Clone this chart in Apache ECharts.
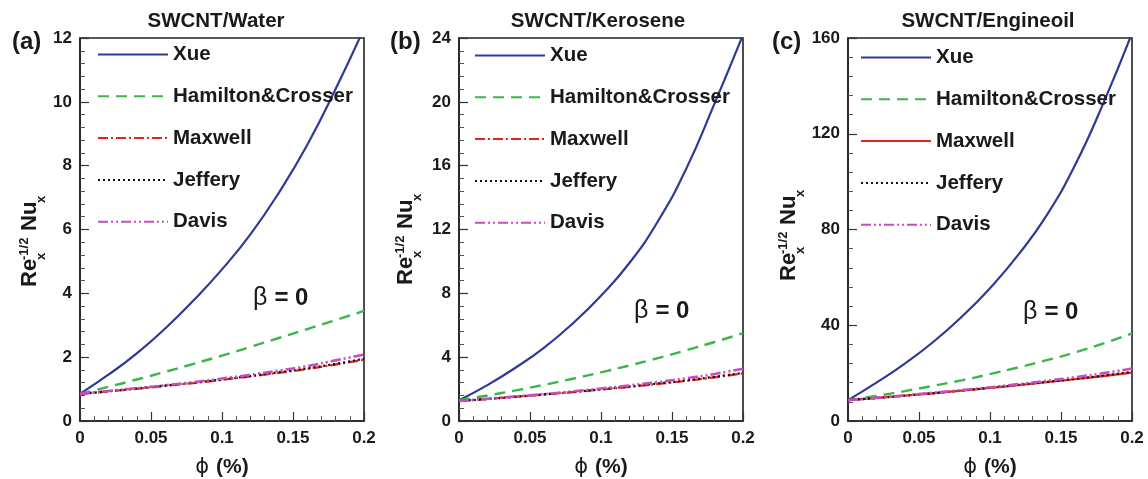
<!DOCTYPE html>
<html>
<head>
<meta charset="utf-8">
<script src="https://cdn.jsdelivr.net/npm/echarts@6/dist/echarts.min.js"></script>
<style>
  html, body { margin: 0; padding: 0; background: #fff; }
  #chart { width: 1148px; height: 479px; }
</style>
</head>
<body>
<div id="chart"></div>
<script>
// volume fraction (x axis)
const phi = [0, 0.02, 0.04, 0.06, 0.08, 0.10, 0.12, 0.14, 0.16, 0.18, 0.20]

// (a) SWCNT/Water
const xueWater = [0.85, 1.45, 2.12, 2.9, 3.78, 4.75, 5.85, 7.15, 8.65, 10.4, 12.3]
const hcWater = [0.85, 1.07, 1.3, 1.54, 1.79, 2.05, 2.32, 2.6, 2.88, 3.16, 3.45]
const maxwellWater = [0.85, 0.93, 1.01, 1.1, 1.19, 1.29, 1.4, 1.51, 1.63, 1.77, 1.92]
const jefferyWater = [0.85, 0.93, 1.02, 1.11, 1.2, 1.3, 1.41, 1.53, 1.65, 1.79, 1.95]
const davisWater = [0.85, 0.94, 1.03, 1.12, 1.22, 1.33, 1.45, 1.58, 1.72, 1.9, 2.08]

// (b) SWCNT/Kerosene
const xueKerosene = [1.3, 2.25, 3.35, 4.6, 6.1, 7.85, 9.9, 12.5, 15.8, 19.9, 24.2]
const hcKerosene = [1.3, 1.6, 1.92, 2.27, 2.65, 3.05, 3.48, 3.94, 4.43, 4.95, 5.5]
const maxwellKerosene = [1.25, 1.38, 1.52, 1.66, 1.81, 1.97, 2.14, 2.32, 2.52, 2.74, 2.98]
const jefferyKerosene = [1.25, 1.38, 1.52, 1.67, 1.82, 1.98, 2.16, 2.35, 2.55, 2.77, 3.02]
const davisKerosene = [1.25, 1.39, 1.54, 1.69, 1.86, 2.04, 2.23, 2.44, 2.68, 2.95, 3.28]

// (c) SWCNT/Engineoil
const xueOil = [8.7, 16, 24, 33, 43.5, 55.5, 69.5, 86, 107, 133, 162]
const hcOil = [8.7, 10.5, 12.5, 14.7, 17, 19.6, 22.4, 25.4, 28.7, 32.4, 36.6]
const maxwellOil = [8.7, 9.6, 10.6, 11.6, 12.7, 13.8, 15, 16.2, 17.5, 18.8, 20.2]
const jefferyOil = [8.7, 9.6, 10.6, 11.6, 12.7, 13.9, 15.1, 16.3, 17.6, 19, 20.5]
const davisOil = [8.7, 9.7, 10.7, 11.8, 12.9, 14.1, 15.4, 16.8, 18.3, 20, 21.9]

const modelNames = ['Xue', 'Hamilton&Crosser', 'Maxwell', 'Jeffery', 'Davis']
const yMax = [12, 24, 160]
const yStep = [2, 4, 40]
const panelTitles = ['SWCNT/Water', 'SWCNT/Kerosene', 'SWCNT/Engineoil']
const panelTags = ['(a)', '(b)', '(c)']
const panelData = [
  [xueWater, hcWater, maxwellWater, jefferyWater, davisWater],
  [xueKerosene, hcKerosene, maxwellKerosene, jefferyKerosene, davisKerosene],
  [xueOil, hcOil, maxwellOil, jefferyOil, davisOil]
]

const FONT = '"Liberation Sans", Arial, Helvetica, sans-serif'
const INK = '#1a1a1a'

// line looks per model, panel (c) draws Maxwell solid
const modelStyles = [
  { color: '#2f3a96', type: 'solid', width: 2.2 },
  { color: '#3cb54a', type: [11, 7], width: 2.4 },
  { color: '#e0261c', type: [10, 3, 2, 3], width: 2.3 },
  { color: '#111111', type: [2, 3], width: 2.2 },
  { color: '#c44fc0', type: [10, 3, 2, 3, 2, 3], width: 2.6 }
]

// layout of the three boxes
const layout = [
  { left: 80, legendLeft: 97, legendTop: 44, titleX: 216, tagX: 12, betaX: 253, betaY: 298, nameX: 30, nameY: 287 },
  { left: 459, legendLeft: 474, legendTop: 45, titleX: 598, tagX: 390, betaX: 634, betaY: 311, nameX: 406, nameY: 285 },
  { left: 848, legendLeft: 860, legendTop: 47, titleX: 988, tagX: 772, betaX: 1023, betaY: 312, nameX: 789, nameY: 281 }
]
const gridTop = 38
const gridW = 284
const gridH = 383

function yName (x, y) {
  let big = { fontSize: 22, fontWeight: 'bold', fontFamily: FONT, fill: INK, verticalAlign: 'middle' }
  let small = { fontSize: 13, fontWeight: 'bold', fontFamily: FONT, fill: INK, verticalAlign: 'middle' }
  return {
    type: 'group',
    x: x,
    y: y,
    rotation: Math.PI / 2,
    children: [
      { type: 'text', x: 0, y: 0, style: Object.assign({ text: 'Re' }, big) },
      { type: 'text', x: 27, y: -6, style: Object.assign({ text: '-1/2' }, small) },
      { type: 'text', x: 27, y: 11, style: Object.assign({ text: 'x' }, small) },
      { type: 'text', x: 56, y: 0, style: Object.assign({ text: 'Nu' }, big) },
      { type: 'text', x: 84, y: 11, style: Object.assign({ text: 'x' }, small) }
    ]
  }
}

let grid = [], xAxis = [], yAxis = [], series = [], legend = [], title = [], graphic = []

for (let p = 0; p < 3; p++) {
  let L = layout[p]
  grid.push({
    left: L.left, top: gridTop, width: gridW, height: gridH,
    outerBoundsMode: 'none',
    show: true, borderColor: '#222', borderWidth: 1.6, backgroundColor: 'transparent'
  })
  xAxis.push({
    type: 'value', gridIndex: p, min: 0, max: 0.2, interval: 0.05,
    name: '{g|ϕ}{b|(%)}', nameLocation: 'middle', nameGap: 36,
    nameTextStyle: {
      rich: {
        g: { fontSize: 21, fontWeight: 'normal', fontFamily: '"DejaVu Sans", ' + FONT, color: INK, padding: [0, 7, 0, 0] },
        b: { fontSize: 21, fontWeight: 'bold', fontFamily: FONT, color: INK }
      }
    },
    axisLine: { show: true, lineStyle: { color: '#222', width: 1.6 } },
    axisTick: { show: true, inside: true, length: 9, lineStyle: { color: '#333', width: 1.2 } },
    minorTick: { show: true, splitNumber: 5, length: 5, lineStyle: { color: '#555', width: 1 } },
    splitLine: { show: false },
    axisLabel: { fontSize: 17, fontWeight: 'bold', fontFamily: FONT, color: INK, margin: 9 }
  })
  yAxis.push({
    type: 'value', gridIndex: p, min: 0, max: yMax[p], interval: yStep[p],
    axisLine: { show: true, lineStyle: { color: '#222', width: 1.6 } },
    axisTick: { show: true, inside: true, length: 9, lineStyle: { color: '#333', width: 1.2 } },
    minorTick: { show: true, splitNumber: 5, length: 5, lineStyle: { color: '#555', width: 1 } },
    splitLine: { show: false },
    axisLabel: { fontSize: 17, fontWeight: 'bold', fontFamily: FONT, color: INK, margin: 8 }
  })
  for (let m = 0; m < modelNames.length; m++) {
    let st = Object.assign({}, modelStyles[m])
    if (p === 2 && m === 2) st.type = 'solid'
    series.push({
      type: 'line',
      name: modelNames[m],
      xAxisIndex: p,
      yAxisIndex: p,
      smooth: true,
      symbol: 'none',
      clip: true,
      lineStyle: st,
      itemStyle: { color: st.color },
      data: phi.map((x, i) => [x, panelData[p][m][i]])
    })
  }
  legend.push({
    orient: 'vertical',
    left: L.legendLeft,
    top: L.legendTop,
    padding: 0,
    itemWidth: 70,
    itemHeight: 14,
    itemGap: 20.8,
    selectedMode: false,
    itemStyle: { opacity: 0 },
    textStyle: { fontSize: 20.5, fontWeight: 'bold', fontFamily: FONT, color: INK, lineHeight: 20 },
    data: modelNames.map((n, m) => {
      if (p === 2 && m === 2) return { name: n, lineStyle: { type: 'solid' } }
      return { name: n }
    })
  })
  title.push({
    text: panelTitles[p],
    left: L.titleX,
    top: 11,
    padding: 0,
    textAlign: 'center',
    textStyle: { fontSize: 20.5, fontWeight: 'bold', fontFamily: FONT, color: INK }
  })
  graphic.push({
    type: 'text', x: L.tagX, y: 42,
    style: { text: panelTags[p], fontSize: 24, fontWeight: 'bold', fontFamily: FONT, fill: INK, verticalAlign: 'middle' }
  })
  graphic.push({
    type: 'text', x: L.betaX, y: L.betaY,
    style: {
      text: '{g|β}{b|= 0}',
      verticalAlign: 'middle',
      rich: {
        g: { fontSize: 25, fontWeight: 'normal', fontFamily: FONT, fill: INK, padding: [0, 7, 0, 0] },
        b: { fontSize: 24, fontWeight: 'bold', fontFamily: FONT, fill: INK }
      }
    }
  })
  graphic.push(yName(L.nameX, L.nameY))
}

let myChart = echarts.init(document.getElementById('chart'))
myChart.setOption({
  animation: false,
  backgroundColor: '#fff',
  textStyle: { fontFamily: FONT },
  title: title,
  legend: legend,
  grid: grid,
  xAxis: xAxis,
  yAxis: yAxis,
  series: series,
  graphic: graphic
})
</script>
</body>
</html>
